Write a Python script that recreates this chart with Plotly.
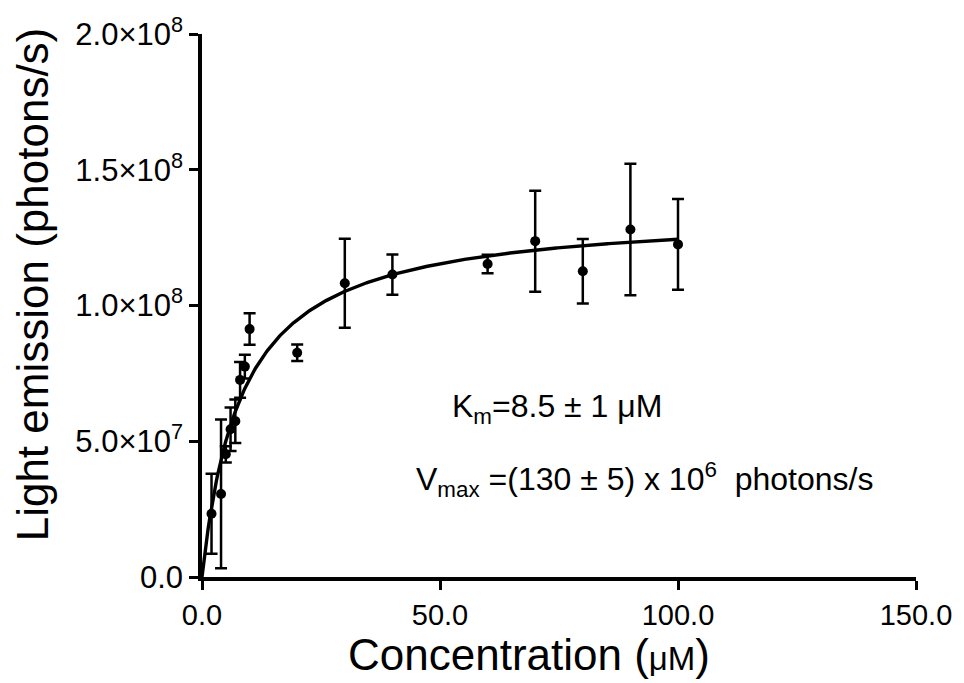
import numpy as np
import plotly.graph_objects as go

# Data
conc = [2, 4, 5, 6, 7, 8, 9, 10, 20, 30, 40, 60, 70, 80, 90, 100]
emission = [2.33e7, 3.06e7, 4.52e7, 5.44e7, 5.74e7, 7.26e7, 7.75e7, 9.13e7,
            8.26e7, 1.082e8, 1.114e8, 1.153e8, 1.237e8, 1.126e8, 1.28e8, 1.225e8]
err = [1.47e7, 2.74e7, 3.0e6, 8.0e6, 8.0e6, 6.6e6, 4.4e6, 5.8e6,
       3.0e6, 1.64e7, 7.4e6, 3.4e6, 1.86e7, 1.19e7, 2.42e7, 1.67e7]

# Michaelis-Menten fit parameters
Km = 8.5
Vmax_fit = 1.35e8
fit_x_max = 100

x_tickvals = [0, 50, 100, 150]
x_ticktext = ["0.0", "50.0", "100.0", "150.0"]
y_tickvals = [0, 5e7, 1e8, 1.5e8, 2e8]
y_ticktext = ["0.0", "5.0×10<sup>7</sup>", "1.0×10<sup>8</sup>",
              "1.5×10<sup>8</sup>", "2.0×10<sup>8</sup>"]

xf = np.linspace(0, fit_x_max, 400)
yf = Vmax_fit * xf / (Km + xf)

FONT = "Liberation Sans, Arial, Helvetica, sans-serif"

fig = go.Figure()
fig.add_trace(go.Scatter(x=xf, y=yf, mode="lines",
                         line=dict(color="black", width=3.4),
                         showlegend=False, hoverinfo="skip"))
fig.add_trace(go.Scatter(x=conc, y=emission, mode="markers",
                         marker=dict(color="black", size=10),
                         error_y=dict(type="data", array=err, visible=True,
                                      color="black", thickness=2.5, width=6),
                         showlegend=False))

fig.update_layout(
    width=964, height=683,
    margin=dict(l=202, r=46, t=30, b=106),
    paper_bgcolor="white", plot_bgcolor="white",
    font=dict(family=FONT, color="black"),
    xaxis=dict(range=[0, 150], tickvals=x_tickvals, ticktext=x_ticktext,
               showgrid=False, zeroline=False, showline=True,
               linecolor="black", linewidth=3.5, ticks="outside",
               ticklen=9, tickwidth=3, tickcolor="black",
               tickfont=dict(size=29, family=FONT)),
    yaxis=dict(range=[0, 2e8], tickvals=y_tickvals, ticktext=y_ticktext,
               showgrid=False, zeroline=False, showline=True,
               linecolor="black", linewidth=3.5, ticks="outside",
               ticklen=9, tickwidth=3, tickcolor="black",
               tickfont=dict(size=31, family=FONT)),
)

# Axis titles as annotations (positioned like the reference)
fig.add_annotation(xref="paper", yref="paper", x=0, y=0, xanchor="center",
                   yanchor="middle", xshift=327, yshift=-77, showarrow=False,
                   text="Concentration (<span style='font-size:33px'>μM</span>)",
                   font=dict(size=44, family=FONT, color="black"))
fig.add_annotation(xref="paper", yref="paper", x=0, y=0.539, xanchor="center",
                   yanchor="middle", xshift=-170, showarrow=False,
                   textangle=-90, text="Light emission (photons/s)",
                   font=dict(size=44, family=FONT, color="black"))

fig.add_annotation(x=52, y=6.2e7, xref="x", yref="y", xanchor="left",
                   yanchor="middle", showarrow=False,
                   text="K<sub>m</sub>=8.5 ± 1 μM",
                   font=dict(size=32, family=FONT, color="black"))
fig.add_annotation(x=44.6, y=3.6e7, xref="x", yref="y", xanchor="left",
                   yanchor="middle", showarrow=False,
                   text="V<sub>max</sub> =(130 ± 5) x 10<sup>6</sup>  photons/s",
                   font=dict(size=32, family=FONT, color="black"))

fig.write_html("out.html", config={"displayModeBar": False},
               post_script="document.body.style.margin='0';")
